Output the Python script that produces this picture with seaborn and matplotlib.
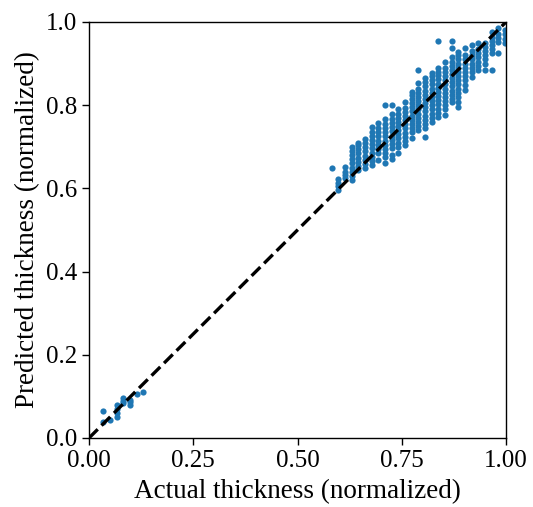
import numpy as np
import pandas as pd
import matplotlib
matplotlib.use("Agg")
import matplotlib.pyplot as plt
import seaborn as sns

# Column positions (actual thickness) and predicted values per column
col_x = [0.033, 0.050, 0.066, 0.082, 0.098, 0.114, 0.130,
         0.582, 0.598, 0.614, 0.630, 0.646, 0.662, 0.678, 0.694, 0.710,
         0.726, 0.742, 0.758, 0.774, 0.790, 0.806, 0.822, 0.838, 0.854,
         0.870, 0.886, 0.902, 0.918, 0.934, 0.950, 0.966, 0.982, 0.998]
col_y = [
    [0.039, 0.066],
    [0.043],
    [0.050, 0.060, 0.070, 0.079],
    [0.084, 0.090, 0.095],
    [0.080, 0.086, 0.092],
    [0.106],
    [0.110],
    [0.648],
    [0.597, 0.605, 0.613, 0.622],
    [0.624, 0.632, 0.640, 0.652],
    [0.620, 0.630, 0.640, 0.650, 0.660, 0.670, 0.680, 0.690, 0.700],
    [0.644, 0.654, 0.664, 0.674, 0.684, 0.694, 0.704, 0.709],
    [0.649, 0.659, 0.669, 0.679, 0.689, 0.699, 0.709, 0.719],
    [0.656, 0.666, 0.676, 0.686, 0.696, 0.706, 0.716, 0.726, 0.736, 0.748],
    [0.668, 0.685, 0.695, 0.705, 0.715, 0.725, 0.735, 0.745, 0.758],
    [0.660, 0.675, 0.685, 0.695, 0.705, 0.715, 0.725, 0.735, 0.745, 0.755, 0.767, 0.800],
    [0.670, 0.680, 0.697, 0.707, 0.717, 0.727, 0.737, 0.747, 0.757, 0.767, 0.780, 0.800],
    [0.685, 0.700, 0.710, 0.720, 0.730, 0.740, 0.750, 0.760, 0.770, 0.780, 0.790],
    [0.704, 0.714, 0.724, 0.734, 0.744, 0.754, 0.764, 0.774, 0.784, 0.794, 0.808],
    [0.722, 0.735, 0.745, 0.755, 0.765, 0.775, 0.785, 0.795, 0.805, 0.815, 0.825, 0.832],
    [0.740, 0.750, 0.760, 0.770, 0.780, 0.790, 0.800, 0.810, 0.820, 0.830, 0.840, 0.853, 0.885],
    [0.724, 0.745, 0.755, 0.765, 0.775, 0.785, 0.795, 0.805, 0.815, 0.825, 0.835, 0.845, 0.855, 0.865],
    [0.760, 0.770, 0.780, 0.790, 0.800, 0.810, 0.820, 0.830, 0.840, 0.850, 0.860, 0.870, 0.877],
    [0.772, 0.782, 0.792, 0.802, 0.812, 0.822, 0.832, 0.842, 0.852, 0.862, 0.872, 0.880, 0.889, 0.954],
    [0.776, 0.790, 0.800, 0.810, 0.820, 0.830, 0.840, 0.850, 0.860, 0.870, 0.880, 0.890, 0.905],
    [0.808, 0.815, 0.825, 0.835, 0.845, 0.855, 0.865, 0.875, 0.885, 0.895, 0.905, 0.917, 0.937, 0.954],
    [0.796, 0.808, 0.820, 0.830, 0.840, 0.850, 0.860, 0.870, 0.880, 0.890, 0.900, 0.910, 0.920, 0.929],
    [0.837, 0.849, 0.860, 0.870, 0.880, 0.890, 0.900, 0.910, 0.920, 0.937],
    [0.868, 0.880, 0.890, 0.900, 0.910, 0.920, 0.930, 0.945],
    [0.885, 0.895, 0.905, 0.915, 0.925, 0.935, 0.950],
    [0.885, 0.900, 0.910, 0.920, 0.930, 0.940, 0.950],
    [0.885, 0.925, 0.935, 0.945, 0.955, 0.965, 0.977],
    [0.925, 0.952, 0.962, 0.972, 0.985],
    [0.950, 0.960, 0.970, 0.980],
]
x_ticks = [0.00, 0.25, 0.50, 0.75, 1.00]
y_ticks = [0.0, 0.2, 0.4, 0.6, 0.8, 1.0]
x_label = "Actual thickness (normalized)"
y_label = "Predicted thickness (normalized)"

rows = [(x, y) for x, ys in zip(col_x, col_y) for y in ys]
df = pd.DataFrame(rows, columns=["actual", "predicted"])

sns.set_style("ticks")
plt.rcParams["font.family"] = ["Liberation Serif", "DejaVu Serif"]
plt.rcParams["mathtext.fontset"] = "stix"

fig = plt.figure(figsize=(5.33, 5.07), dpi=100)
ax = fig.add_axes([89 / 533, 69 / 507, 417 / 533, 416 / 507])

sns.scatterplot(data=df, x="actual", y="predicted", ax=ax, color="#1f77b4",
                s=20, linewidth=0, zorder=2)
ax.plot([0, 1], [0, 1], color="black", linestyle="--", linewidth=2.4, zorder=3)

ax.set_xlim(0, 1)
ax.set_ylim(0, 1)
ax.set_xticks(x_ticks)
ax.set_xticklabels([f"{t:.2f}" for t in x_ticks])
ax.set_yticks(y_ticks)
ax.set_yticklabels([f"{t:.1f}" for t in y_ticks])
ax.tick_params(labelsize=18, length=5, width=1, color="black", labelcolor="black")
ax.set_xlabel(x_label, fontsize=19.5, color="black", labelpad=5)
ax.set_ylabel(y_label, fontsize=19.5, color="black", labelpad=4)
for sp in ax.spines.values():
    sp.set_visible(True)
    sp.set_color("black")
    sp.set_linewidth(1)

fig.savefig("out.png", dpi=100)
